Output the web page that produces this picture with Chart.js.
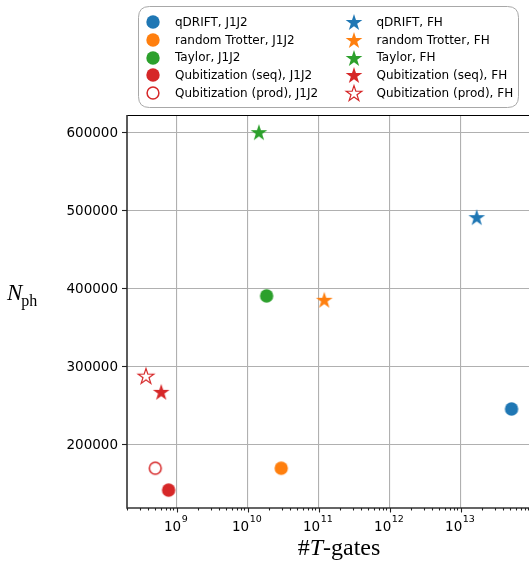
<!DOCTYPE html>
<html>
<head>
<meta charset="utf-8">
<script src="https://cdn.jsdelivr.net/npm/chart.js@4.4.1/dist/chart.umd.min.js"></script>
<style>
html,body{margin:0;padding:0;background:#fff;}
#wrap{width:529px;height:568px;position:relative;}
</style>
</head>
<body>
<div id="wrap"><canvas id="c" width="529" height="568"></canvas></div>
<script>
// ---- data ----
const seriesNames = [
  "qDRIFT, J1J2", "random Trotter, J1J2", "Taylor, J1J2", "Qubitization (seq), J1J2", "Qubitization (prod), J1J2",
  "qDRIFT, FH", "random Trotter, FH", "Taylor, FH", "Qubitization (seq), FH", "Qubitization (prod), FH"
];
const tGates = [5.2e13, 2.97e10, 1.85e10, 7.7e8, 5.0e8, 1.68e13, 1.2e11, 1.44e10, 6.07e8, 3.7e8];
const nPh    = [245000, 169000, 390000, 141000, 169000, 491000, 385000, 600000, 267000, 287500];
const seriesColors = ["#1f77b4", "#ff7f0e", "#2ca02c", "#d62728", "#d62728", "#1f77b4", "#ff7f0e", "#2ca02c", "#d62728", "#d62728"];
const seriesMarker = ["circle","circle","circle","circle","open-circle","star","star","star","star","open-star"];
const xTickExps = [9, 10, 11, 12, 13];
const yTicks = [200000, 300000, 400000, 500000, 600000];

// ---- marker images ----
function starPath(ctx, cx, cy, R) {
  const r = R * 0.381966;
  ctx.beginPath();
  for (let i = 0; i < 10; i++) {
    const rad = i % 2 === 0 ? R : r;
    const a = -Math.PI / 2 + i * Math.PI / 5;
    const x = cx + rad * Math.cos(a), y = cy + rad * Math.sin(a);
    if (i === 0) ctx.moveTo(x, y); else ctx.lineTo(x, y);
  }
  ctx.closePath();
}
function makeMarker(kind, color) {
  const s = 22, c = document.createElement('canvas');
  c.width = s; c.height = s;
  const g = c.getContext('2d');
  const m = s / 2;
  if (kind === 'circle') {
    g.beginPath(); g.arc(m, m, 6.7, 0, Math.PI * 2); g.fillStyle = color; g.fill();
  } else if (kind === 'open-circle') {
    g.beginPath(); g.arc(m, m, 5.9, 0, Math.PI * 2); g.fillStyle = '#fff'; g.fill();
    g.lineWidth = 1.5; g.strokeStyle = color; g.stroke();
  } else if (kind === 'star') {
    starPath(g, m, m + 0.8, 8.8); g.fillStyle = color; g.fill();
  } else {
    starPath(g, m, m + 0.8, 8.2); g.fillStyle = '#fff'; g.fill();
    g.lineWidth = 1.2; g.lineJoin = 'miter'; g.strokeStyle = color; g.stroke();
  }
  return c;
}
const markerImgs = seriesNames.map((n, i) => makeMarker(seriesMarker[i], seriesColors[i]));

const datasets = seriesNames.map((name, i) => ({
  label: name,
  data: [{x: tGates[i], y: nPh[i]}],
  pointStyle: markerImgs[i],
  pointRadius: 8,
  pointHoverRadius: 8,
  backgroundColor: seriesColors[i],
  borderColor: seriesColors[i]
}));

const isMajor = v => Math.abs(Math.log10(v) - Math.round(Math.log10(v))) < 1e-9;

const decor = {
  id: 'decor',
  afterDraw(chart) {
    const ctx = chart.ctx, a = chart.chartArea;
    const xs = chart.scales.x, ys = chart.scales.y;
    ctx.save();
    // top spine
    ctx.strokeStyle = '#000'; ctx.lineWidth = 1;
    ctx.beginPath(); ctx.moveTo(a.left, a.top + 0.5); ctx.lineTo(a.right, a.top + 0.5); ctx.stroke();
    // left and bottom spines
    ctx.strokeStyle = '#333'; ctx.lineWidth = 1.6;
    ctx.beginPath(); ctx.moveTo(a.left, a.top); ctx.lineTo(a.left, a.bottom); ctx.lineTo(a.right, a.bottom); ctx.stroke();
    // y ticks
    ctx.lineWidth = 1.1; ctx.strokeStyle = '#222';
    ctx.fillStyle = '#000';
    ctx.font = '13.5px "DejaVu Sans"';
    ctx.textAlign = 'right'; ctx.textBaseline = 'middle';
    yTicks.forEach(v => {
      const y = Math.round(ys.getPixelForValue(v)) + 0.5;
      ctx.beginPath(); ctx.moveTo(a.left - 5, y); ctx.lineTo(a.left, y); ctx.stroke();
      ctx.fillText(String(v), a.left - 9, y + 0.5);
    });
    // x ticks (major + minor)
    xs.ticks.forEach(t => {
      const x = Math.round(xs.getPixelForValue(t.value)) + 0.5;
      const len = isMajor(t.value) ? 4.5 : 2.5;
      ctx.beginPath(); ctx.moveTo(x, a.bottom); ctx.lineTo(x, a.bottom + len); ctx.stroke();
    });
    xTickExps.forEach(e => {
      const x = xs.getPixelForValue(Math.pow(10, e));
      ctx.font = '13.5px "DejaVu Sans"';
      const w1 = ctx.measureText('10').width;
      ctx.font = '9.5px "DejaVu Sans"';
      const w2 = ctx.measureText(String(e)).width;
      const x0 = x - (w1 + w2) / 2 - 1;
      ctx.textAlign = 'left'; ctx.textBaseline = 'alphabetic';
      ctx.font = '13.5px "DejaVu Sans"';
      ctx.fillText('10', x0, a.bottom + 23);
      ctx.font = '9.5px "DejaVu Sans"';
      ctx.fillText(String(e), x0 + w1 + 0.5, a.bottom + 14);
    });
    // axis titles
    ctx.fillStyle = '#000';
    ctx.textBaseline = 'alphabetic'; ctx.textAlign = 'left';
    const p1 = '#', p2 = 'T', p3 = '-gates';
    ctx.font = '24px "Liberation Serif"'; const w1 = ctx.measureText(p1).width, w3 = ctx.measureText(p3).width;
    ctx.font = 'italic 24px "Liberation Serif"'; const w2 = ctx.measureText(p2).width;
    let tx = 339 - (w1 + w2 + w3) / 2;
    const ty = 555;
    ctx.font = '24px "Liberation Serif"'; ctx.fillText(p1, tx, ty); tx += w1;
    ctx.font = 'italic 24px "Liberation Serif"'; ctx.fillText(p2, tx, ty); tx += w2;
    ctx.font = '24px "Liberation Serif"'; ctx.fillText(p3, tx, ty);
    ctx.font = 'italic 23px "Liberation Serif"';
    ctx.fillText('N', 7, 300);
    const wn = ctx.measureText('N').width;
    ctx.font = '16px "Liberation Serif"';
    ctx.fillText('ph', 7 + wn - 1, 306);
    // legend
    const lx = 138.5, ly = 6.5, lw = 380, lh = 101, rr = 11;
    ctx.beginPath();
    ctx.moveTo(lx + rr, ly); ctx.lineTo(lx + lw - rr, ly); ctx.quadraticCurveTo(lx + lw, ly, lx + lw, ly + rr);
    ctx.lineTo(lx + lw, ly + lh - rr); ctx.quadraticCurveTo(lx + lw, ly + lh, lx + lw - rr, ly + lh);
    ctx.lineTo(lx + rr, ly + lh); ctx.quadraticCurveTo(lx, ly + lh, lx, ly + lh - rr);
    ctx.lineTo(lx, ly + rr); ctx.quadraticCurveTo(lx, ly, lx + rr, ly); ctx.closePath();
    ctx.fillStyle = 'rgba(255,255,255,0.85)'; ctx.fill();
    ctx.strokeStyle = '#a8a8a8'; ctx.lineWidth = 1; ctx.stroke();
    ctx.font = '12px "DejaVu Sans"'; ctx.fillStyle = '#000';
    ctx.textAlign = 'left'; ctx.textBaseline = 'middle';
    seriesNames.forEach((name, i) => {
      const col = Math.floor(i / 5), row = i % 5;
      const mx = col === 0 ? 152.7 : 353.5;
      const tx2 = col === 0 ? 175 : 376.5;
      const my = 22.3 + row * 17.7;
      const img = markerImgs[i];
      ctx.drawImage(img, Math.round(mx - img.width / 2), Math.round(my - img.height / 2));
      ctx.fillText(name, tx2, my + 0.5);
    });
    ctx.restore();
  }
};

new Chart(document.getElementById('c'), {
  type: 'scatter',
  data: { datasets },
  options: {
    responsive: false,
    animation: false,
    events: [],
    layout: { autoPadding: false, padding: { left: 127, top: 115, right: 0, bottom: 60 } },
    plugins: { legend: { display: false }, tooltip: { enabled: false } },
    scales: {
      x: {
        type: 'logarithmic',
        min: 2.0e8, max: 9.16e13,
        afterBuildTicks(scale) {
          const t = [];
          for (let e = 8; e <= 13; e++) for (let k = 1; k <= 9; k++) {
            const v = k * Math.pow(10, e);
            if (v >= scale.min && v <= scale.max) t.push({ value: v });
          }
          scale.ticks = t;
        },
        ticks: { display: false, autoSkip: false },
        border: { display: false },
        grid: {
          drawTicks: false,
          lineWidth: 1.1,
          color: c => (c.tick && isMajor(c.tick.value)) ? '#b0b0b0' : 'rgba(0,0,0,0)'
        }
      },
      y: {
        min: 118000, max: 622000,
        afterBuildTicks(scale) { scale.ticks = yTicks.map(v => ({ value: v })); },
        ticks: { display: false },
        border: { display: false },
        grid: { drawTicks: false, lineWidth: 1.1, color: '#b0b0b0' }
      }
    }
  },
  plugins: [decor]
});
</script>
</body>
</html>
